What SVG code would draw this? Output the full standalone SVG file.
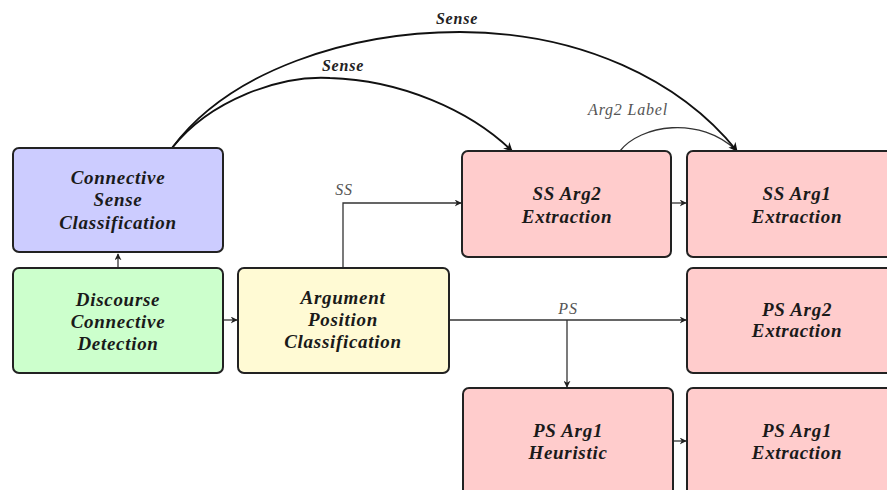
<svg xmlns="http://www.w3.org/2000/svg" width="887" height="490" viewBox="0 0 887 490">
<defs>
<marker id="ah" viewBox="0 0 10 10" refX="9" refY="5" markerWidth="7" markerHeight="7" markerUnits="userSpaceOnUse" orient="auto">
<path d="M0,0 L10,5 L0,10 L3,5 Z" fill="#222"/>
</marker>
<marker id="ah2" viewBox="0 0 10 10" refX="9" refY="5" markerWidth="9" markerHeight="9" markerUnits="userSpaceOnUse" orient="auto">
<path d="M0,0 L10,5 L0,10 L3,5 Z" fill="#111"/>
</marker>
</defs>
<style>
.box{stroke:#222;stroke-width:2}
.blue{fill:#ccccff}.green{fill:#ccffcc}.yellow{fill:#fffad4}.pink{fill:#ffcccc}
text{font-family:'Liberation Serif',serif}
.t{font-style:italic;font-weight:bold;font-size:19px;letter-spacing:0.7px;fill:#1a1a1a;text-anchor:middle}
.lbl{font-style:italic;font-size:16px;letter-spacing:0.8px;fill:#555;text-anchor:middle}
.lblb{font-style:italic;font-weight:bold;font-size:16px;letter-spacing:0.8px;fill:#222;text-anchor:middle}
.c{fill:none;stroke:#333;stroke-width:1.3}
.cv{fill:none;stroke:#111;stroke-width:1.8}
</style>
<rect width="887" height="490" fill="#fff"/>
<g id="connectors">
<path class="c" d="M118,268 L118,254" marker-end="url(#ah)"/>
<path class="c" d="M223,320 L237,320" marker-end="url(#ah)"/>
<path class="c" d="M343,268 L343,203 L461,203" marker-end="url(#ah)"/>
<path class="c" d="M449,320 L686,320" marker-end="url(#ah)"/>
<path class="c" d="M567,320 L567,387" marker-end="url(#ah)"/>
<path class="c" d="M671,203 L686,203" marker-end="url(#ah)"/>
<path class="c" d="M673,441 L686,441" marker-end="url(#ah)"/>
<path class="c" d="M620,151 C640,125 700,115 737,151"/>
<path class="cv" d="M172,148 C210,100 280,75 330,78 C400,80 470,110 512,151" marker-end="url(#ah2)"/>
<path class="cv" d="M172,148 C230,70 350,32 460,32 C580,32 680,80 737,151" marker-end="url(#ah2)"/>
<text class="lbl" x="344" y="195">SS</text>
<text class="lbl" x="568" y="314">PS</text>
<text class="lbl" x="628" y="115">Arg2 Label</text>
<text class="lblb" x="343" y="71">Sense</text>
<text class="lblb" x="457" y="24">Sense</text>
</g>
<g id="node-sense">
<rect class="box blue" x="13" y="148" width="210" height="104" rx="6"/>
<text class="t" x="118" y="184">Connective</text>
<text class="t" x="118" y="206">Sense</text>
<text class="t" x="118" y="229">Classification</text>
</g>
<g id="node-detect">
<rect class="box green" x="13" y="268" width="210" height="105" rx="6"/>
<text class="t" x="118" y="306">Discourse</text>
<text class="t" x="118" y="328">Connective</text>
<text class="t" x="118" y="350">Detection</text>
</g>
<g id="node-argpos">
<rect class="box yellow" x="238" y="268" width="211" height="105" rx="6"/>
<text class="t" x="343" y="304">Argument</text>
<text class="t" x="343" y="326">Position</text>
<text class="t" x="343" y="348">Classification</text>
</g>
<g id="node-ss-arg2">
<rect class="box pink" x="462" y="151" width="209" height="106" rx="6"/>
<text class="t" x="567" y="200">SS Arg2</text>
<text class="t" x="567" y="223">Extraction</text>
</g>
<g id="node-ss-arg1">
<rect class="box pink" x="687" y="151" width="215" height="106" rx="6"/>
<text class="t" x="797" y="200">SS Arg1</text>
<text class="t" x="797" y="223">Extraction</text>
</g>
<g id="node-ps-arg2">
<rect class="box pink" x="687" y="268" width="215" height="105" rx="6"/>
<text class="t" x="797" y="316">PS Arg2</text>
<text class="t" x="797" y="337">Extraction</text>
</g>
<g id="node-ps-heur">
<rect class="box pink" x="463" y="388" width="210" height="120" rx="6"/>
<text class="t" x="568" y="437">PS Arg1</text>
<text class="t" x="568" y="459">Heuristic</text>
</g>
<g id="node-ps-arg1">
<rect class="box pink" x="687" y="388" width="215" height="120" rx="6"/>
<text class="t" x="797" y="437">PS Arg1</text>
<text class="t" x="797" y="459">Extraction</text>
</g>
</svg>
